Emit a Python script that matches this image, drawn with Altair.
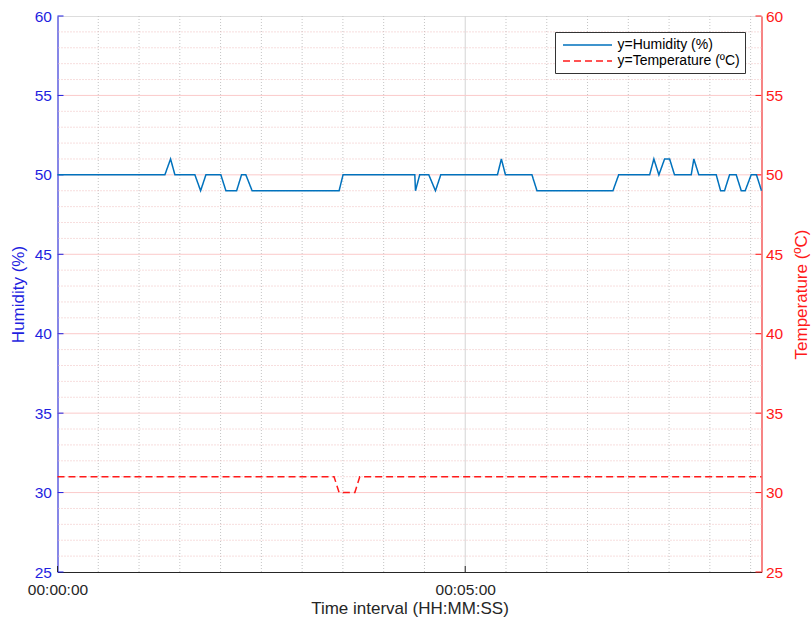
import altair as alt
import pandas as pd

# ---- data (time in seconds) ----
hum_t = [0, 79.0, 83.2, 86.4, 101.1, 105.3, 109.2, 120.2, 123.9, 131.8, 135.4, 138.6, 143.2,
         207.2, 210.1, 262.9, 263.4, 266.5, 273.2, 278.1, 282.0, 323.7, 326.6, 329.6, 349.1,
         352.8, 408.7, 412.9, 435.7, 438.8, 442.5, 446.7, 450.4, 454.0, 466.3, 468.2, 471.9,
         484.7, 487.9, 490.8, 494.5, 499.4, 503.1, 506.0, 510.4, 514.3, 518.0]
hum_v = [50, 50, 51, 50, 50, 49, 50, 50, 49, 49, 50, 50, 49,
         49, 50, 50, 49, 50, 50, 49, 50, 50, 51, 50, 50,
         49, 49, 50, 50, 51, 50, 51, 51, 50, 50, 51, 50,
         50, 49, 49, 50, 50, 49, 49, 50, 50, 49]
temp_t = [0, 203.5, 207.2, 218.8, 222.4, 518.0]
temp_v = [31, 31, 30, 30, 31, 31]

series = ["y=Humidity (%)", "y=Temperature (ºC)"]
x_major = [0, 300]
x_minor = [30, 60, 90, 120, 150, 180, 210, 240, 270, 330, 360, 390, 420, 450, 480, 510]
y_major = [25, 30, 35, 40, 45, 50, 55, 60]
y_minor = [v for v in range(26, 60) if v % 5 != 0]

W, H = 704, 556
XMAX = 518
FONT = "Liberation Sans"
BLUE = "#1f1fe0"
RED = "#ff1a1a"
HUM = "#0072bd"
DARK = "#262626"
TICK_FS = 15.5
TITLE_FS = 17

hum_df = pd.DataFrame({"t": hum_t, "v": hum_v, "s": series[0]})
temp_df = pd.DataFrame({"t": temp_t, "v": temp_v, "s": series[1]})

xscale = alt.Scale(domain=[0, XMAX], nice=False, zero=False)
yscale = alt.Scale(domain=[25, 60], nice=False, zero=False)

legend = alt.Legend(
    title=None, orient="none", legendX=497.5, legendY=16, padding=5,
    strokeColor="#333333", fillColor="white", cornerRadius=0,
    labelFont=FONT, labelFontSize=14, labelColor="#000000",
    symbolType="M-3.5,0H3.5", symbolSize=196, symbolStrokeWidth=1.5,
    symbolOffset=19.5, labelOffset=22, rowPadding=1,
)
color = alt.Color("s:N", scale=alt.Scale(domain=series, range=[HUM, RED]), legend=legend)
dash = alt.StrokeDash("s:N", scale=alt.Scale(domain=series, range=[[1, 0], [7, 4]]), legend=legend)

label_expr = ("'00:' + (floor(datum.value/60) < 10 ? '0' : '') + floor(datum.value/60) + ':' + "
              "(datum.value % 60 < 10 ? '0' : '') + (datum.value % 60)")
xaxis = alt.Axis(values=x_major, labelExpr=label_expr, labelFlush=False, ticks=False, grid=False,
                 domainColor=DARK, labelColor=DARK, labelFont=FONT, labelFontSize=TICK_FS,
                 labelPadding=10,
                 title="Time interval (HH:MM:SS)", titleFont=FONT, titleFontSize=TITLE_FS,
                 titleFontWeight="normal", titleColor=DARK, titleX=W / 2, titleY=36.5,
                 titleBaseline="middle", titleAlign="center")
laxis = alt.Axis(values=y_major, ticks=False, grid=False, domainColor=BLUE, labelColor=BLUE,
                 labelFont=FONT, labelFontSize=TICK_FS, labelPadding=6,
                 title="Humidity (%)", titleFont=FONT, titleFontSize=TITLE_FS, titleFontWeight="normal",
                 titleColor=BLUE, titleX=-39.5, titleY=H / 2, titleAngle=270,
                 titleBaseline="middle", titleAlign="center")
raxis = alt.Axis(orient="right", values=y_major, ticks=False, grid=False, domainColor=RED,
                 labelColor=RED, labelFont=FONT, labelFontSize=TICK_FS, labelPadding=4,
                 title="Temperature (ºC)", titleFont=FONT, titleFontSize=TITLE_FS,
                 titleFontWeight="normal",
                 titleColor=RED, titleX=40.2, titleY=H / 2, titleAngle=270,
                 titleBaseline="middle", titleAlign="center")

vminor = alt.Chart(pd.DataFrame({"x": x_minor})).mark_rule(
    color="#c4c4c4", strokeDash=[1, 2], strokeWidth=1).encode(
    x=alt.X("x:Q", scale=xscale, axis=xaxis))
vmajor = alt.Chart(pd.DataFrame({"x": x_major[1:]})).mark_rule(
    color="#d4d4d4", strokeWidth=1).encode(
    x=alt.X("x:Q", scale=xscale, axis=xaxis))
hminor = alt.Chart(pd.DataFrame({"y": y_minor})).mark_rule(
    color="#eebcbc", strokeDash=[1, 2], strokeWidth=1).encode(
    y=alt.Y("y:Q", scale=yscale, axis=None))
hmajor = alt.Chart(pd.DataFrame({"y": y_major[1:-1]})).mark_rule(
    color="#fbcaca", strokeWidth=1).encode(
    y=alt.Y("y:Q", scale=yscale, axis=None))
lticks = alt.Chart(pd.DataFrame({"y": y_major})).mark_rule(color=BLUE, strokeWidth=1).encode(
    y=alt.Y("y:Q", scale=yscale, axis=None), x=alt.value(0), x2=alt.value(6))
xticks = alt.Chart(pd.DataFrame({"x": x_major})).mark_rule(color=DARK, strokeWidth=1).encode(
    x=alt.X("x:Q", scale=xscale, axis=xaxis), y=alt.value(H), y2=alt.value(H - 6))
rticks = alt.Chart(pd.DataFrame({"y": y_major})).mark_rule(color=RED, strokeWidth=1).encode(
    y=alt.Y("y:Q", scale=yscale, axis=None), x=alt.value(W - 6), x2=alt.value(W))

hum = alt.Chart(hum_df).mark_line(strokeWidth=1.5).encode(
    x=alt.X("t:Q", scale=xscale, axis=xaxis),
    y=alt.Y("v:Q", scale=yscale, axis=laxis),
    color=color, strokeDash=dash)

temp = alt.Chart(temp_df).mark_line(strokeWidth=1.5).encode(
    x=alt.X("t:Q", scale=xscale, axis=xaxis),
    y=alt.Y("v:Q", scale=yscale, axis=raxis),
    color=color, strokeDash=dash)

chart = alt.layer(vminor, vmajor, hminor, hmajor, lticks, xticks, rticks, hum, temp).resolve_scale(
    y="independent").properties(
    width=W, height=H,
    autosize=alt.AutoSizeParams(type="none"),
    padding={"left": 57.5, "top": 16, "right": 49.5, "bottom": 50},
).configure_view(stroke="#404040", strokeWidth=1).configure(background="white")

chart.save("out.html", embed_options={"renderer": "svg", "actions": False})
